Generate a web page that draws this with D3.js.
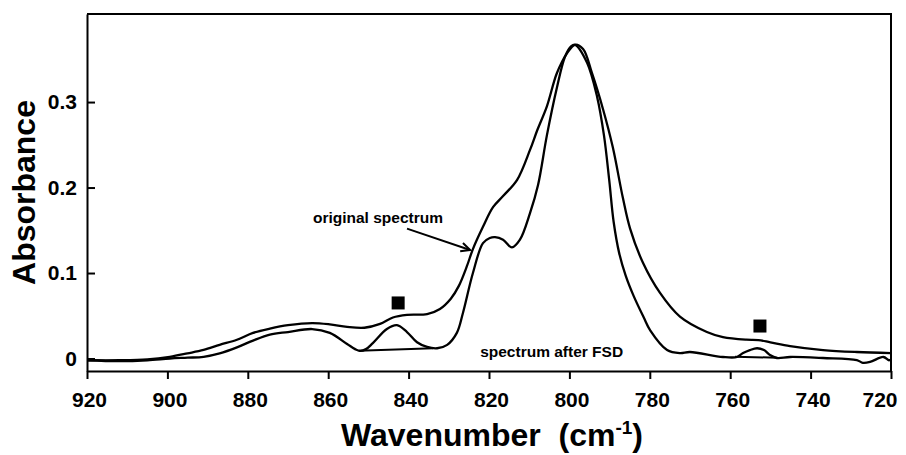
<!DOCTYPE html>
<html>
<head>
<meta charset="utf-8">
<script src="https://cdn.jsdelivr.net/npm/d3@7"></script>
<style>
  body { margin: 0; background: #fff; }
  text { font-family: "Liberation Sans", Arial, sans-serif; font-weight: bold; fill: #000; }
</style>
</head>
<body>
<div id="chart"></div>
<script>
// Wavenumber / absorbance
var originalWn  = [920, 912, 905, 899.4, 895, 891, 887, 882.7, 878.7, 874.5, 870, 864, 859.6, 855.3, 851, 847.1, 843.9, 840.4, 835.4, 832.2, 829.5, 827.5, 825.5, 824, 821.5, 819, 816.5, 813, 809.8, 808, 805.6, 803.1, 800.6, 798.6, 796.6, 794.4, 791.6, 789.2, 786.7, 784.9, 781.7, 777.5, 772.5, 765.8, 761.8, 756, 753, 750, 745.1, 736.9, 728.5, 720];
var originalAbs = [-0.002, -0.002, -0.001, 0.002, 0.006, 0.010, 0.016, 0.022, 0.030, 0.035, 0.039, 0.0415, 0.040, 0.037, 0.036, 0.0405, 0.048, 0.051, 0.052, 0.058, 0.070, 0.085, 0.108, 0.128, 0.154, 0.177, 0.190, 0.209, 0.244, 0.267, 0.295, 0.334, 0.357, 0.367, 0.362, 0.334, 0.291, 0.247, 0.188, 0.152, 0.112, 0.077, 0.049, 0.031, 0.025, 0.022, 0.0216, 0.019, 0.0146, 0.0099, 0.0076, 0.0064];

var fsdWn  = [920, 912, 905, 899.4, 895, 891, 887, 882.7, 878.7, 874.5, 870, 864, 859.6, 855.3, 853.3, 852.1, 850.6, 848.9, 845.4, 842.9, 840.4, 837.9, 835.4, 832.9, 830.4, 828, 826.5, 824, 821.5, 819.8, 818.5, 816.5, 814.3, 812.3, 809.8, 807.8, 805.6, 803.1, 801.1, 799.6, 798.6, 795.6, 793.1, 791.4, 790.1, 789, 787.6, 786, 784, 781.5, 779.9, 775.7, 772.5, 770, 761.8, 758.3, 756.8, 755.1, 753.3, 751.6, 750.1, 748.4, 745.1, 736.9, 728.5, 727, 725.2, 721.9, 720.5, 720];
var fsdAbs = [-0.002, -0.003, -0.002, 0.000, 0.001, 0.002, 0.006, 0.013, 0.021, 0.028, 0.031, 0.0345, 0.030, 0.017, 0.011, 0.009, 0.011, 0.018, 0.0345, 0.039, 0.031, 0.019, 0.0135, 0.012, 0.016, 0.030, 0.053, 0.100, 0.135, 0.141, 0.142, 0.139, 0.130, 0.139, 0.170, 0.203, 0.261, 0.317, 0.353, 0.365, 0.367, 0.346, 0.306, 0.261, 0.209, 0.160, 0.123, 0.097, 0.073, 0.048, 0.033, 0.010, 0.0064, 0.0076, 0.0018, 0.0018, 0.0064, 0.0099, 0.012, 0.0099, 0.004, 0.0006, 0.0018, 0.0006, -0.0018, -0.005, -0.004, 0.0018, -0.002, -0.001];

// straight base lines under the two FSD bands
var baseWn  = [[852.4, 833.9], [758.8, 748.4]];
var baseAbs = [[0.009, 0.012], [0.002, 0.001]];

// bands marked with a filled square
var markerWn  = [842.6, 752.6];
var markerAbs = [0.065, 0.038];

var xTicks = [920, 900, 880, 860, 840, 820, 800, 780, 760, 740, 720];
var yTicks = [0, 0.1, 0.2, 0.3];

var width = 906, height = 455;
var margin = {top: 14, right: 15, bottom: 84, left: 87};

var x = d3.scaleLinear()
    .domain([920, 720])
    .range([margin.left, width - margin.right]);

var y = d3.scaleLinear()
    .domain([-0.0146, 0.403])
    .range([height - margin.bottom, margin.top]);

var svg = d3.select("#chart")
    .append("svg")
        .attr("width", width)
        .attr("height", height);

// frame (top and right sides)
svg.append("path")
    .attr("d", "M" + x(920) + "," + y(0.403) + "H" + x(720) + "V" + y(-0.0146))
    .attr("fill", "none")
    .attr("stroke", "#000")
    .attr("stroke-width", 2);

// Axes
var xAxis = svg.append("g")
    .attr("transform", "translate(0," + y(-0.0146) + ")")
    .call(d3.axisBottom(x).tickValues(xTicks).tickSizeInner(8).tickSizeOuter(0).tickFormat(d3.format("d")));

var yAxis = svg.append("g")
    .attr("transform", "translate(" + x(920) + ",0)")
    .call(d3.axisLeft(y).tickValues(yTicks).tickSizeInner(-8).tickSizeOuter(0).tickPadding(10)
        .tickFormat(function(d) { return d === 0 ? "0" : d3.format(".1f")(d); }));

svg.selectAll(".domain").attr("stroke-width", 2);
svg.selectAll(".tick line").attr("stroke-width", 2);

xAxis.selectAll("text")
    .attr("y", 36)
    .attr("dy", null)
    .attr("dx", 2)
    .style("font-size", "21px");

// last label is pulled in so it stays on the page
xAxis.selectAll(".tick")
    .filter(function(d) { return d === 720; })
    .select("text")
        .attr("text-anchor", "end")
        .attr("dx", 6);

yAxis.selectAll("text")
    .style("font-size", "21px");

// Axis titles
svg.append("text")
    .attr("transform", "translate(35," + ((y(0.403) + y(-0.0146)) / 2) + ") rotate(-90)")
    .attr("text-anchor", "middle")
    .style("font-size", "32px")
    .text("Absorbance");

var xTitle = svg.append("text")
    .attr("x", (x(920) + x(720)) / 2 + 3)
    .attr("y", 446)
    .attr("text-anchor", "middle")
    .style("font-size", "32px")
    .style("white-space", "pre");
xTitle.append("tspan").text("Wavenumber  (cm");
xTitle.append("tspan").attr("dy", -12).style("font-size", "19px").text("-1");
xTitle.append("tspan").attr("dy", 12).text(")");

// Spectra
var line = d3.line()
    .x(function(d) { return x(d[0]); })
    .y(function(d) { return y(d[1]); })
    .curve(d3.curveCatmullRom.alpha(0.5));

var spectra = [d3.zip(originalWn, originalAbs), d3.zip(fsdWn, fsdAbs)];

svg.selectAll(".spectrum")
    .data(spectra)
    .enter()
    .append("path")
        .attr("class", "spectrum")
        .attr("d", line)
        .attr("fill", "none")
        .attr("stroke", "#000")
        .attr("stroke-width", 2.3)
        .attr("stroke-linejoin", "round");

svg.selectAll(".base")
    .data(baseWn.map(function(w, i) { return d3.zip(w, baseAbs[i]); }))
    .enter()
    .append("path")
        .attr("class", "base")
        .attr("d", d3.line().x(function(d) { return x(d[0]); }).y(function(d) { return y(d[1]); }))
        .attr("fill", "none")
        .attr("stroke", "#000")
        .attr("stroke-width", 2);

// Square markers
svg.selectAll(".marker")
    .data(d3.zip(markerWn, markerAbs))
    .enter()
    .append("rect")
        .attr("class", "marker")
        .attr("x", function(d) { return x(d[0]) - 6.5; })
        .attr("y", function(d) { return y(d[1]) - 6.5; })
        .attr("width", 13)
        .attr("height", 13)
        .attr("fill", "#000");

// Annotations
svg.append("text")
    .attr("x", x(863.8))
    .attr("y", y(0.158))
    .style("font-size", "15.5px")
    .text("original spectrum");

svg.append("text")
    .attr("x", x(822.2))
    .attr("y", y(0.0018))
    .style("font-size", "15.5px")
    .text("spectrum after FSD");

// arrow
var a0 = [x(840.4), y(0.152)], a1 = [x(824.7), y(0.127)];
var ang = Math.atan2(a1[1] - a0[1], a1[0] - a0[0]);
svg.append("line")
    .attr("x1", a0[0]).attr("y1", a0[1])
    .attr("x2", a1[0]).attr("y2", a1[1])
    .attr("stroke", "#000")
    .attr("stroke-width", 2);
svg.append("path")
    .attr("d", "M" + (a1[0] - 10 * Math.cos(ang - 0.45)) + "," + (a1[1] - 10 * Math.sin(ang - 0.45)) +
               "L" + a1[0] + "," + a1[1] +
               "L" + (a1[0] - 10 * Math.cos(ang + 0.45)) + "," + (a1[1] - 10 * Math.sin(ang + 0.45)))
    .attr("fill", "none")
    .attr("stroke", "#000")
    .attr("stroke-width", 2);
</script>
</body>
</html>
